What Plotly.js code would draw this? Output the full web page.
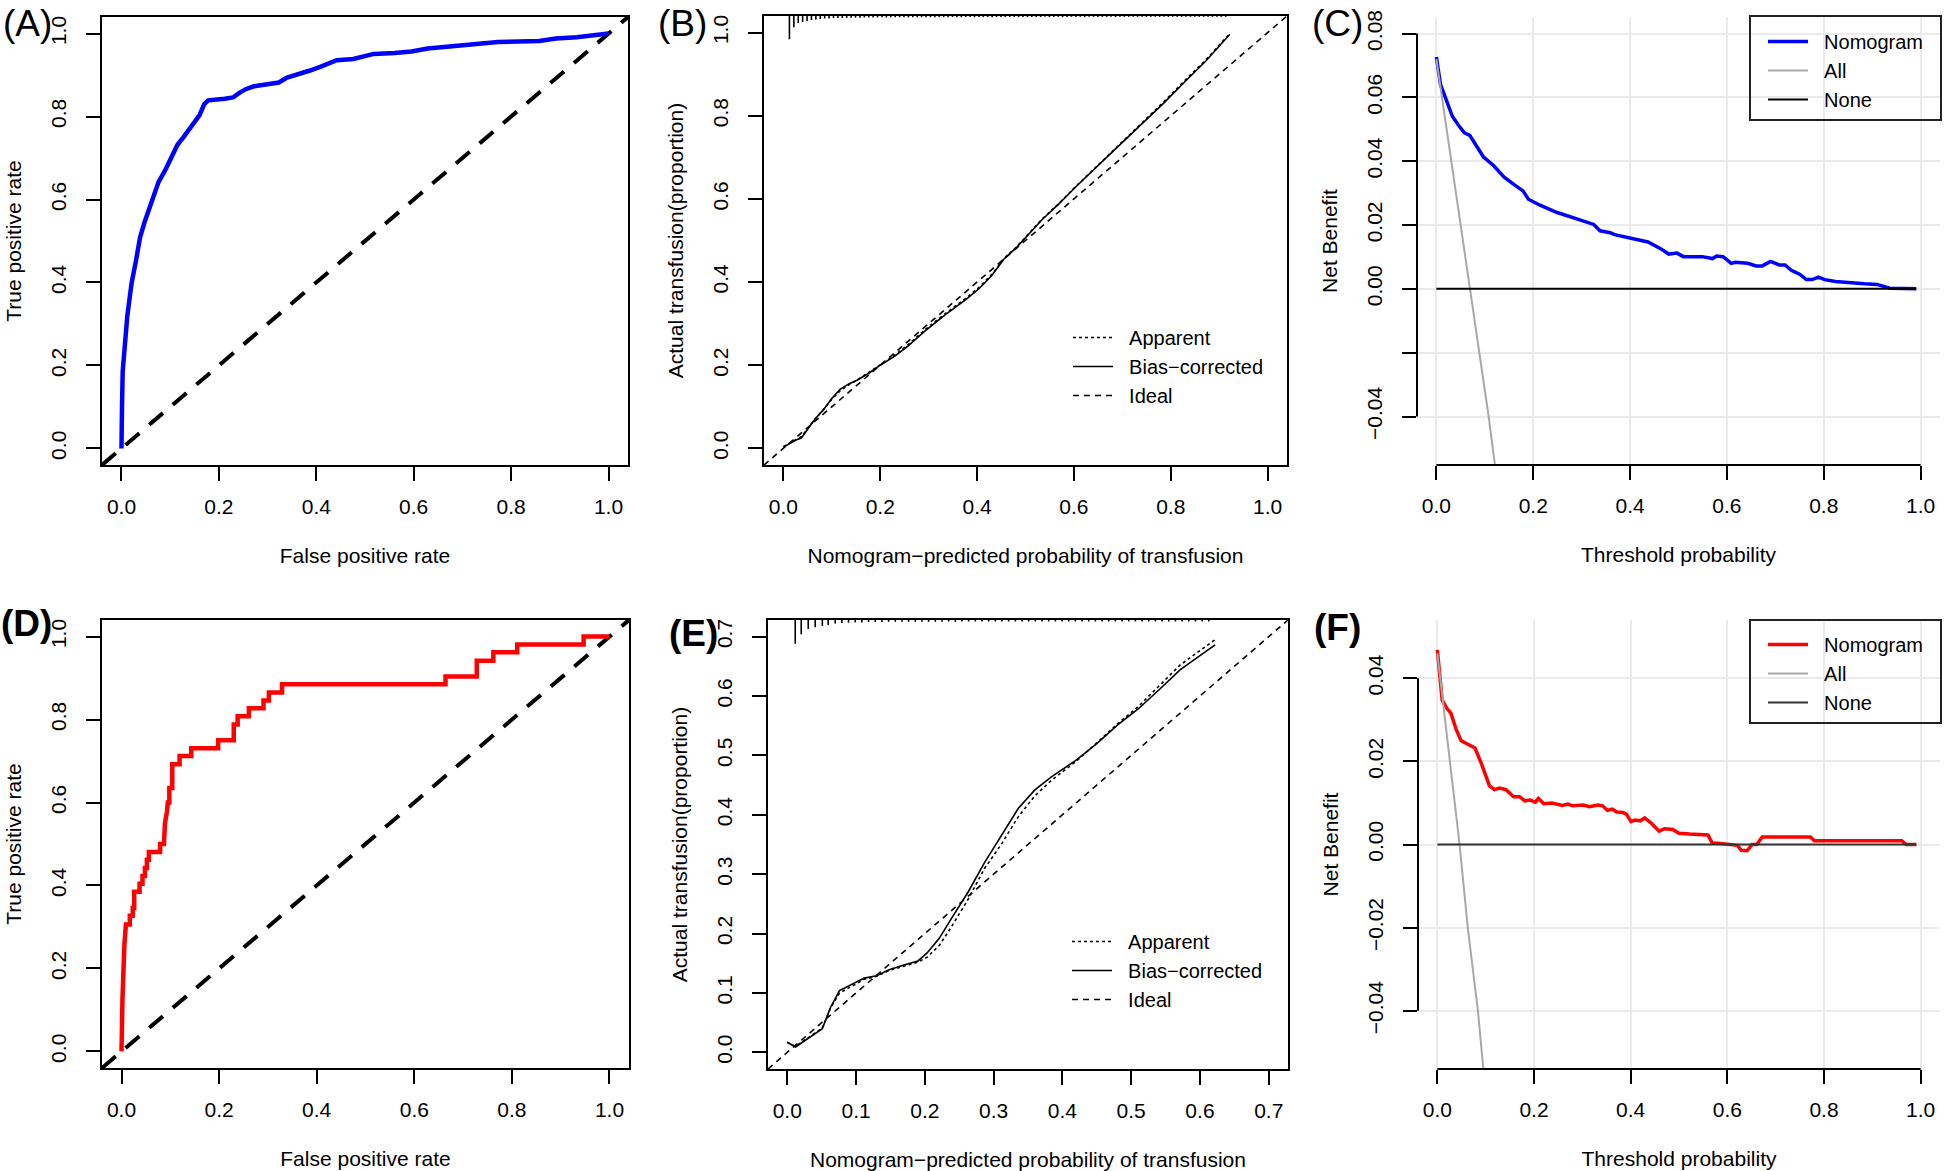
<!DOCTYPE html>
<html>
<head>
<meta charset="utf-8">
<script src="https://cdn.plot.ly/plotly-3.0.1.min.js"></script>
<style>html,body{margin:0;padding:0;background:#fff;}#chart{width:1946px;height:1171px;}</style>
</head>
<body>
<div id="chart"></div>
<script>
// ---------------- DATA ----------------
// (A) ROC, training
const rocA_fpr = [0, 0, 0.001, 0.0025, 0.005, 0.0085, 0.012, 0.017, 0.021, 0.03, 0.032, 0.038, 0.047, 0.058, 0.07, 0.076, 0.089, 0.10, 0.115, 0.127, 0.144, 0.16, 0.17, 0.178, 0.212, 0.229, 0.242, 0.255, 0.272, 0.297, 0.323, 0.34, 0.365, 0.387, 0.408, 0.425, 0.442, 0.476, 0.501, 0.518, 0.561, 0.595, 0.629, 0.671, 0.731, 0.773, 0.858, 0.892, 0.935, 0.96, 1.0];
const rocA_tpr = [0, 0.05, 0.097, 0.186, 0.231, 0.275, 0.32, 0.365, 0.40, 0.454, 0.472, 0.508, 0.544, 0.58, 0.615, 0.642, 0.669, 0.696, 0.732, 0.75, 0.776, 0.803, 0.83, 0.839, 0.843, 0.846, 0.857, 0.866, 0.873, 0.877, 0.882, 0.894, 0.902, 0.911, 0.92, 0.927, 0.936, 0.939, 0.945, 0.951, 0.953, 0.957, 0.964, 0.969, 0.975, 0.98, 0.982, 0.988, 0.991, 0.994, 1.0];

// (D) ROC, validation
const rocD_fpr = [0, 0, 0.002, 0.006, 0.009, 0.017, 0.017, 0.023, 0.023, 0.026, 0.026, 0.037, 0.037, 0.043, 0.043, 0.048, 0.048, 0.052, 0.052, 0.056, 0.056, 0.079, 0.079, 0.087, 0.089, 0.093, 0.095, 0.098, 0.098, 0.104, 0.104, 0.119, 0.119, 0.143, 0.143, 0.198, 0.198, 0.230, 0.230, 0.238, 0.238, 0.261, 0.261, 0.291, 0.291, 0.302, 0.302, 0.329, 0.329, 0.664, 0.664, 0.728, 0.728, 0.762, 0.762, 0.811, 0.811, 0.947, 0.947, 1.0];
const rocD_tpr = [0, 0.04, 0.13, 0.26, 0.306, 0.306, 0.327, 0.327, 0.346, 0.346, 0.385, 0.385, 0.404, 0.404, 0.423, 0.423, 0.442, 0.442, 0.462, 0.462, 0.481, 0.481, 0.50, 0.50, 0.55, 0.577, 0.60, 0.60, 0.635, 0.635, 0.692, 0.692, 0.712, 0.712, 0.731, 0.731, 0.75, 0.75, 0.788, 0.788, 0.808, 0.808, 0.827, 0.827, 0.846, 0.846, 0.865, 0.865, 0.885, 0.885, 0.904, 0.904, 0.942, 0.942, 0.962, 0.962, 0.981, 0.981, 1.0, 1.0];

// (B) calibration, training
const calB_pred = [0.0, 0.013, 0.026, 0.037, 0.052, 0.065, 0.082, 0.10, 0.117, 0.135, 0.152, 0.178, 0.20, 0.23, 0.256, 0.291, 0.334, 0.378, 0.404, 0.43, 0.456, 0.482, 0.508, 0.534, 0.569, 0.603, 0.655, 0.699, 0.742, 0.786, 0.829, 0.872, 0.922];
const calB_apparent = [0.004, 0.013, 0.022, 0.028, 0.05, 0.07, 0.092, 0.118, 0.138, 0.153, 0.164, 0.183, 0.201, 0.224, 0.248, 0.284, 0.324, 0.362, 0.387, 0.418, 0.457, 0.485, 0.518, 0.551, 0.589, 0.629, 0.687, 0.736, 0.785, 0.834, 0.885, 0.934, 0.998];
const calB_bias = [0.003, 0.012, 0.02, 0.025, 0.048, 0.07, 0.092, 0.12, 0.142, 0.155, 0.164, 0.182, 0.2, 0.222, 0.245, 0.281, 0.321, 0.359, 0.384, 0.415, 0.456, 0.484, 0.517, 0.55, 0.588, 0.628, 0.686, 0.734, 0.783, 0.831, 0.882, 0.931, 0.996];
const rugB_pred = [0.0125,0.0216,0.0307,0.0398,0.0489,0.0580,0.0671,0.0762,0.0853,0.0944,0.1035,0.1126,0.1217,0.1308,0.1399,0.1490,0.1581,0.1672,0.1763,0.1854,0.1945,0.2036,0.2127,0.2218,0.2309,0.2400,0.2491,0.2582,0.2673,0.2764,0.2855,0.2946,0.3037,0.3128,0.3219,0.3310,0.3401,0.3492,0.3583,0.3674,0.3765,0.3856,0.3947,0.4038,0.4129,0.4220,0.4311,0.4402,0.4493,0.4584,0.4675,0.4766,0.4857,0.4948,0.5039,0.5130,0.5221,0.5312,0.5403,0.5494,0.5585,0.5676,0.5767,0.5858,0.5949,0.6040,0.6131,0.6222,0.6313,0.6404,0.6495,0.6586,0.6677,0.6768,0.6859,0.6950,0.7041,0.7132,0.7223,0.7314,0.7405,0.7496,0.7587,0.7678,0.7769,0.7860,0.7951,0.8042,0.8133,0.8224,0.8315,0.8406,0.8497,0.8588,0.8679,0.8770,0.8861,0.8952,0.9043,0.9134];
const rugB_freq = [0.056,0.027,0.017,0.0145,0.012,0.0097,0.0085,0.0072,0.006,0.006,0.005,0.005,0.0045,0.0045,0.004,0.004,0.004,0.0035,0.0035,0.0035,0.0035,0.003,0.0035,0.003,0.003,0.003,0.003,0.0035,0.003,0.003,0.003,0.003,0.003,0.003,0.0025,0.003,0.003,0.0025,0.003,0.003,0.0025,0.0025,0.003,0.0025,0.0025,0.0025,0.003,0.0025,0.0025,0.0025,0.0025,0.0025,0.0025,0.0025,0.0025,0.0025,0.0025,0.0025,0.002,0.0025,0.0025,0.002,0.0025,0.0025,0.002,0.0025,0.002,0.0025,0.002,0.002,0.0025,0.002,0.002,0.002,0.0025,0.002,0.002,0.002,0.002,0.002,0.002,0.002,0.002,0.002,0.002,0.002,0.002,0.002,0.002,0.002,0.002,0.002,0.002,0.002,0.002,0.002,0.002,0.002,0.002,0.002];

// (E) calibration, validation
const calE_pred = [0.0, 0.012, 0.051, 0.063, 0.076, 0.094, 0.112, 0.13, 0.148, 0.172, 0.19, 0.203, 0.221, 0.239, 0.263, 0.287, 0.311, 0.336, 0.36, 0.384, 0.42, 0.45, 0.48, 0.511, 0.541, 0.571, 0.622];
const calE_apparent = [0.017, 0.01, 0.041, 0.075, 0.1, 0.112, 0.123, 0.128, 0.138, 0.146, 0.152, 0.16, 0.18, 0.212, 0.258, 0.31, 0.35, 0.397, 0.432, 0.458, 0.49, 0.521, 0.553, 0.583, 0.617, 0.652, 0.695];
const calE_bias = [0.017, 0.009, 0.04, 0.076, 0.104, 0.114, 0.125, 0.129, 0.139, 0.148, 0.154, 0.167, 0.192, 0.226, 0.27, 0.32, 0.364, 0.411, 0.442, 0.464, 0.492, 0.52, 0.551, 0.579, 0.611, 0.644, 0.686];
const rugE_pred = [0.0116,0.0203,0.0305,0.0406,0.0510,0.0595,0.0697,0.0794,0.0891,0.0988,0.1085,0.1182,0.1279,0.1376,0.1473,0.1570,0.1667,0.1764,0.1861,0.1958,0.2055,0.2152,0.2249,0.2346,0.2443,0.2540,0.2637,0.2734,0.2831,0.2928,0.3025,0.3122,0.3219,0.3316,0.3413,0.3510,0.3607,0.3704,0.3801,0.3898,0.3995,0.4092,0.4189,0.4286,0.4383,0.4480,0.4577,0.4674,0.4771,0.4868,0.4965,0.5062,0.5159,0.5256,0.5353,0.5450,0.5547,0.5644,0.5741,0.5838,0.5935,0.6032,0.6129];
const rugE_freq = [0.040,0.024,0.015,0.012,0.010,0.0085,0.006,0.005,0.0045,0.004,0.004,0.0035,0.0035,0.0035,0.003,0.003,0.003,0.003,0.003,0.003,0.003,0.003,0.003,0.0025,0.003,0.0025,0.0025,0.0025,0.0025,0.0025,0.0025,0.0025,0.0025,0.0025,0.0025,0.0025,0.0025,0.0025,0.0025,0.0025,0.0025,0.0025,0.0025,0.0025,0.0025,0.0025,0.0025,0.0025,0.0025,0.0025,0.0025,0.0025,0.0025,0.0025,0.0025,0.0025,0.0025,0.0025,0.0025,0.0025,0.0025,0.0025,0.0025];

// (C) decision curve, training
const dcaC_thr = [0, 0.0086, 0.02, 0.033, 0.046, 0.058, 0.069, 0.08, 0.097, 0.119, 0.14, 0.162, 0.179, 0.19, 0.213, 0.248, 0.282, 0.308, 0.325, 0.338, 0.359, 0.368, 0.398, 0.437, 0.463, 0.48, 0.497, 0.51, 0.549, 0.57, 0.579, 0.592, 0.609, 0.617, 0.643, 0.66, 0.673, 0.69, 0.708, 0.72, 0.733, 0.751, 0.764, 0.776, 0.789, 0.802, 0.824, 0.845, 0.884, 0.91, 0.936, 0.991];
const dcaC_nomogram = [0.0727, 0.064, 0.0594, 0.0541, 0.0512, 0.0489, 0.0481, 0.0454, 0.0414, 0.0385, 0.035, 0.0325, 0.0307, 0.0281, 0.0263, 0.024, 0.0223, 0.0209, 0.0202, 0.0182, 0.0176, 0.017, 0.0159, 0.0147, 0.0126, 0.0109, 0.0112, 0.0101, 0.0101, 0.0095, 0.0103, 0.0101, 0.008, 0.0083, 0.008, 0.0072, 0.0072, 0.0086, 0.0075, 0.0075, 0.0058, 0.0045, 0.0029, 0.0029, 0.0037, 0.0029, 0.0023, 0.002, 0.0016, 0.0014, 0.0002, 0];
const dcaC_allThr = [0.0, 0.07, 0.089, 0.108, 0.125];
const dcaC_all = [0.072, 0.0, -0.02, -0.04, -0.06];
const dcaC_noneThr = [0, 0.991];
const dcaC_none = [0, 0];

// (F) decision curve, validation
const dcaF_thr = [0, 0.01, 0.02, 0.028, 0.039, 0.049, 0.06, 0.078, 0.091, 0.108, 0.118, 0.129, 0.142, 0.158, 0.17, 0.181, 0.192, 0.203, 0.209, 0.22, 0.237, 0.259, 0.27, 0.28, 0.302, 0.315, 0.332, 0.342, 0.352, 0.362, 0.371, 0.384, 0.391, 0.401, 0.409, 0.42, 0.429, 0.444, 0.459, 0.47, 0.487, 0.5, 0.522, 0.56, 0.569, 0.582, 0.621, 0.629, 0.641, 0.651, 0.661, 0.672, 0.772, 0.78, 0.961, 0.97, 0.991];
const dcaF_nomogram = [0.0468, 0.0347, 0.0327, 0.0316, 0.0277, 0.025, 0.0243, 0.0232, 0.0195, 0.0141, 0.0132, 0.0136, 0.0132, 0.0115, 0.0115, 0.0105, 0.0107, 0.0102, 0.0111, 0.0098, 0.01, 0.0094, 0.0097, 0.0093, 0.0095, 0.0091, 0.0095, 0.0093, 0.0082, 0.0085, 0.0078, 0.0077, 0.0073, 0.0055, 0.0059, 0.0057, 0.0064, 0.005, 0.0032, 0.0038, 0.0036, 0.0027, 0.0025, 0.0023, 0.0003, 0.0003, -0.0002, -0.0014, -0.0015, 0, 0, 0.0018, 0.0018, 0.0009, 0.0009, 0, 0];
const dcaF_allThr = [0.0, 0.046, 0.063, 0.084, 0.1];
const dcaF_all = [0.046, 0.0, -0.02, -0.04, -0.06];
const dcaF_noneThr = [0, 0.991];
const dcaF_none = [0, 0];

// tick labels
const probTicks = [0, 0.2, 0.4, 0.6, 0.8, 1.0];
const probTickText = ['0.0', '0.2', '0.4', '0.6', '0.8', '1.0'];
const calETicks = [0, 0.1, 0.2, 0.3, 0.4, 0.5, 0.6, 0.7];
const calETickText = ['0.0', '0.1', '0.2', '0.3', '0.4', '0.5', '0.6', '0.7'];
const nbCTicks = [-0.04, -0.02, 0, 0.02, 0.04, 0.06, 0.08];
const nbCTickText = ['\u22120.04', '', '0.00', '0.02', '0.04', '0.06', '0.08'];
const nbFTicks = [-0.04, -0.02, 0, 0.02, 0.04];
const nbFTickText = ['\u22120.04', '\u22120.02', '0.00', '0.02', '0.04'];

const panelLabels = ['(A)', '(B)', '(C)', '(D)', '(E)', '(F)'];
const legendCal = ['Apparent', 'Bias\u2212corrected', 'Ideal'];
const legendDca = ['Nomogram', 'All', 'None'];

// axis ranges
const rangeUnit = [-0.04, 1.04];
const rangeE = [-0.028, 0.728];
const rangeNbC = [-0.0552, 0.0852];
const rangeNbF = [-0.054, 0.054];

// ---------------- LAYOUT HELPERS ----------------
const W = 1946, H = 1171;
const FONT = "'Liberation Sans', Arial, Helvetica, sans-serif";
const fx = (a, b) => [a / W, b / W];
const fy = (top, bottom) => [1 - bottom / H, 1 - top / H];
const GAP = '\u00a0\u00a0'; // spacing between legend key and label

function rugSegments(xs, fr, top) {
  const x = [], y = [];
  xs.forEach((v, i) => { x.push(v, v, null); y.push(top, top - fr[i], null); });
  return {x, y};
}

const tickFont = {family: FONT, size: 21, color: '#000'};
const titleFont = {family: FONT, size: 21, color: '#000'};

function baseAxis(letter, extra) {
  return Object.assign({
    ticks: 'outside', ticklen: 14, tickwidth: 2, tickcolor: '#000',
    zeroline: false, tickfont: tickFont, tickmode: 'array', fixedrange: true,
    ticklabelstandoff: letter === 'x' ? 8 : 12,
    title: {text: extra.titleText, font: titleFont, standoff: letter === 'x' ? 31 : 19}
  }, extra);
}
function boxAxis(letter, extra) {
  return baseAxis(letter, Object.assign({showline: true, mirror: true, linecolor: '#000', linewidth: 2, showgrid: false}, extra));
}
function openAxis(letter, extra) {
  return baseAxis(letter, Object.assign({showline: false, showgrid: true, gridcolor: '#EBEBEB', gridwidth: 2}, extra));
}

// ---------------- TRACES ----------------
const thinBlack = {color: '#000', width: 1.6};
const rugB = rugSegments(rugB_pred, rugB_freq, rangeUnit[1]);
const rugE = rugSegments(rugE_pred, rugE_freq, rangeE[1]);

const traces = [
  // A
  {x: rangeUnit, y: rangeUnit, xaxis: 'x', yaxis: 'y', mode: 'lines', showlegend: false,
   line: {color: '#000', width: 4, dash: '18px,13px'}, hoverinfo: 'skip'},
  {x: rocA_fpr, y: rocA_tpr, xaxis: 'x', yaxis: 'y', mode: 'lines', showlegend: false,
   line: {color: '#0000FF', width: 4.5}},
  // B
  {x: calB_pred, y: calB_apparent, xaxis: 'x2', yaxis: 'y2', mode: 'lines', name: GAP + legendCal[0], legend: 'legend',
   line: {color: '#000', width: 1.6, dash: 'dot'}},
  {x: calB_pred, y: calB_bias, xaxis: 'x2', yaxis: 'y2', mode: 'lines', name: GAP + legendCal[1], legend: 'legend',
   line: thinBlack},
  {x: rangeUnit, y: rangeUnit, xaxis: 'x2', yaxis: 'y2', mode: 'lines', name: GAP + legendCal[2], legend: 'legend',
   line: {color: '#000', width: 1.6, dash: '6px,5px'}},
  {x: rugB.x, y: rugB.y, xaxis: 'x2', yaxis: 'y2', mode: 'lines', showlegend: false,
   line: {color: '#000', width: 1.6}, hoverinfo: 'skip'},
  // C
  {x: dcaC_thr, y: dcaC_nomogram, xaxis: 'x3', yaxis: 'y3', mode: 'lines', name: GAP + legendDca[0], legend: 'legend2',
   line: {color: '#0000FF', width: 3.5}},
  {x: dcaC_allThr, y: dcaC_all, xaxis: 'x3', yaxis: 'y3', mode: 'lines', name: GAP + legendDca[1], legend: 'legend2',
   line: {color: '#A8A8A8', width: 2}},
  {x: dcaC_noneThr, y: dcaC_none, xaxis: 'x3', yaxis: 'y3', mode: 'lines', name: GAP + legendDca[2], legend: 'legend2',
   line: {color: '#000', width: 2}},
  // D
  {x: rangeUnit, y: rangeUnit, xaxis: 'x4', yaxis: 'y4', mode: 'lines', showlegend: false,
   line: {color: '#000', width: 4, dash: '18px,13px'}, hoverinfo: 'skip'},
  {x: rocD_fpr, y: rocD_tpr, xaxis: 'x4', yaxis: 'y4', mode: 'lines', showlegend: false,
   line: {color: '#FF0000', width: 4.5}},
  // E
  {x: calE_pred, y: calE_apparent, xaxis: 'x5', yaxis: 'y5', mode: 'lines', name: GAP + legendCal[0], legend: 'legend3',
   line: {color: '#000', width: 1.6, dash: 'dot'}},
  {x: calE_pred, y: calE_bias, xaxis: 'x5', yaxis: 'y5', mode: 'lines', name: GAP + legendCal[1], legend: 'legend3',
   line: thinBlack},
  {x: rangeE, y: rangeE, xaxis: 'x5', yaxis: 'y5', mode: 'lines', name: GAP + legendCal[2], legend: 'legend3',
   line: {color: '#000', width: 1.6, dash: '6px,5px'}},
  {x: rugE.x, y: rugE.y, xaxis: 'x5', yaxis: 'y5', mode: 'lines', showlegend: false,
   line: {color: '#000', width: 1.6}, hoverinfo: 'skip'},
  // F
  {x: dcaF_thr, y: dcaF_nomogram, xaxis: 'x6', yaxis: 'y6', mode: 'lines', name: GAP + legendDca[0], legend: 'legend4',
   line: {color: '#FF0000', width: 3.5}},
  {x: dcaF_allThr, y: dcaF_all, xaxis: 'x6', yaxis: 'y6', mode: 'lines', name: GAP + legendDca[1], legend: 'legend4',
   line: {color: '#A8A8A8', width: 2}},
  {x: dcaF_noneThr, y: dcaF_none, xaxis: 'x6', yaxis: 'y6', mode: 'lines', name: GAP + legendDca[2], legend: 'legend4',
   line: {color: '#333', width: 2}}
];

// ---------------- LAYOUT ----------------
const legendFont = {family: FONT, size: 20, color: '#000'};
function makeLegend(xpx, ypx) {
  return {x: xpx / W, y: 1 - ypx / H, xanchor: 'left', yanchor: 'top', bgcolor: 'rgba(0,0,0,0)',
          borderwidth: 0, font: legendFont, itemwidth: 40, tracegroupgap: 0};
}

const layout = {
  width: W, height: H,
  margin: {l: 0, r: 0, t: 0, b: 0},
  paper_bgcolor: '#fff', plot_bgcolor: '#fff',
  font: {family: FONT, size: 21, color: '#000'},
  hovermode: false,
  xaxis: boxAxis('x', {domain: fx(102, 628), range: rangeUnit, tickvals: probTicks, ticktext: probTickText, anchor: 'y', titleText: 'False positive rate'}),
  yaxis: boxAxis('y', {domain: fy(17, 465), range: rangeUnit, tickvals: probTicks, ticktext: probTickText, anchor: 'x', tickangle: -90, titleText: 'True positive rate'}),
  xaxis2: boxAxis('x', {domain: fx(764, 1287), range: rangeUnit, tickvals: probTicks, ticktext: probTickText, anchor: 'y2', titleText: 'Nomogram\u2212predicted probability of transfusion'}),
  yaxis2: boxAxis('y', {domain: fy(16, 465), range: rangeUnit, tickvals: probTicks, ticktext: probTickText, anchor: 'x2', tickangle: -90, titleText: 'Actual transfusion(proportion)'}),
  xaxis3: openAxis('x', {domain: fx(1417, 1940), range: rangeUnit, tickvals: probTicks, ticktext: probTickText, anchor: 'y3', titleText: 'Threshold probability'}),
  yaxis3: openAxis('y', {domain: fy(17, 465), range: rangeNbC, tickvals: nbCTicks, ticktext: nbCTickText, anchor: 'x3', tickangle: -90, titleText: 'Net Benefit'}),
  xaxis4: boxAxis('x', {domain: fx(102, 629), range: rangeUnit, tickvals: probTicks, ticktext: probTickText, anchor: 'y4', titleText: 'False positive rate'}),
  yaxis4: boxAxis('y', {domain: fy(620, 1068), range: rangeUnit, tickvals: probTicks, ticktext: probTickText, anchor: 'x4', tickangle: -90, titleText: 'True positive rate'}),
  xaxis5: boxAxis('x', {domain: fx(768, 1288), range: rangeE, tickvals: calETicks, ticktext: calETickText, anchor: 'y5', titleText: 'Nomogram\u2212predicted probability of transfusion'}),
  yaxis5: boxAxis('y', {domain: fy(620, 1069), range: rangeE, tickvals: calETicks, ticktext: calETickText, anchor: 'x5', tickangle: -90, titleText: 'Actual transfusion(proportion)'}),
  xaxis6: openAxis('x', {domain: fx(1418, 1940), range: rangeUnit, tickvals: probTicks, ticktext: probTickText, anchor: 'y6', titleText: 'Threshold probability'}),
  yaxis6: openAxis('y', {domain: fy(620, 1069), range: rangeNbF, tickvals: nbFTicks, ticktext: nbFTickText, anchor: 'x6', tickangle: -90, titleText: 'Net Benefit'}),
  legend: makeLegend(1068, 318),
  legend2: makeLegend(1763, 22),
  legend3: makeLegend(1067, 922),
  legend4: makeLegend(1763, 625),
  shapes: [
    // open axes for decision curves (from first to last tick)
    {type: 'line', xref: 'x3 domain', yref: 'y3', x0: 0, x1: 0, y0: nbCTicks[0], y1: nbCTicks[nbCTicks.length - 1], line: {color: '#000', width: 2}},
    {type: 'line', xref: 'x3', yref: 'y3 domain', x0: probTicks[0], x1: probTicks[probTicks.length - 1], y0: 0, y1: 0, line: {color: '#000', width: 2}},
    {type: 'line', xref: 'x6 domain', yref: 'y6', x0: 0, x1: 0, y0: nbFTicks[0], y1: nbFTicks[nbFTicks.length - 1], line: {color: '#000', width: 2}},
    {type: 'line', xref: 'x6', yref: 'y6 domain', x0: probTicks[0], x1: probTicks[probTicks.length - 1], y0: 0, y1: 0, line: {color: '#000', width: 2}},
    // legend frames for decision curves
    {type: 'rect', xref: 'paper', yref: 'paper', x0: 1750 / W, x1: 1941 / W, y0: 1 - 16 / H, y1: 1 - 120 / H, line: {color: '#222', width: 2}},
    {type: 'rect', xref: 'paper', yref: 'paper', x0: 1750 / W, x1: 1941 / W, y0: 1 - 620 / H, y1: 1 - 723 / H, line: {color: '#222', width: 2}}
  ],
  annotations: [
    {text: panelLabels[0], x: 27 / W, y: 1 - 23 / H, font: {family: FONT, size: 37, color: '#000'}},
    {text: panelLabels[1], x: 682 / W, y: 1 - 23 / H, font: {family: FONT, size: 37, color: '#000'}},
    {text: panelLabels[2], x: 1337 / W, y: 1 - 23 / H, font: {family: FONT, size: 37, color: '#000'}},
    {text: '<b>' + panelLabels[3] + '</b>', x: 26 / W, y: 1 - 623 / H, font: {family: FONT, size: 37, color: '#000'}},
    {text: '<b>' + panelLabels[4] + '</b>', x: 693 / W, y: 1 - 633 / H, font: {family: FONT, size: 37, color: '#000'}},
    {text: '<b>' + panelLabels[5] + '</b>', x: 1337 / W, y: 1 - 627 / H, font: {family: FONT, size: 37, color: '#000'}}
  ].map(a => Object.assign({xref: 'paper', yref: 'paper', showarrow: false, xanchor: 'center', yanchor: 'middle'}, a))
};

Plotly.newPlot('chart', traces, layout, {displayModeBar: false, staticPlot: true});
</script>
</body>
</html>
